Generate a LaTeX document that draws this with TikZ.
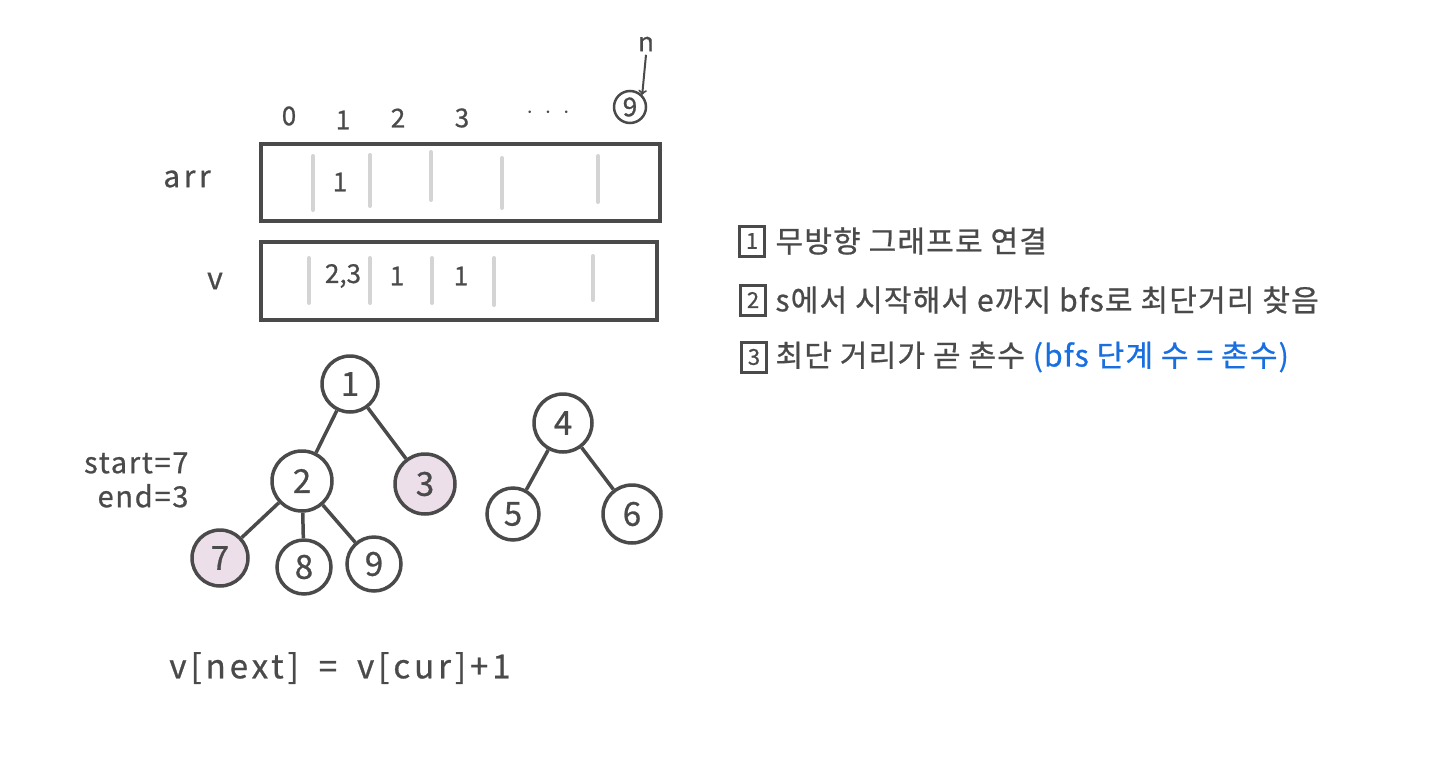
\documentclass[tikz,border=0pt]{standalone}
\usepackage{fontspec}
\setmainfont{Noto Sans CJK KR}[FakeBold=0.8]
\definecolor{ink}{HTML}{4A4A4A}
\definecolor{sep}{HTML}{D4D4D4}
\definecolor{mark}{HTML}{ECDFEA}
\definecolor{hint}{HTML}{1A6FE0}
\begin{document}
\begin{tikzpicture}[x=1pt,y=-1pt]
        \tikzstyle{every node} = [text=ink, font=\fontsize{26}{30}\selectfont]
        \tikzstyle{wide} = [font=\fontsize{30}{34}\selectfont\addfontfeature{LetterSpace=12}]
        \tikzstyle{vert} = [circle, draw=ink, line width=3.5pt, minimum size=56pt, inner sep=0pt, fill=white, font=\fontsize{33}{36}\selectfont]
        \tikzstyle{visit} = [vert, fill=mark]
        \tikzstyle{cell} = [draw=ink, line width=4pt, inner sep=0pt]
        \tikzstyle{bar} = [draw=sep, line width=4pt, line cap=round]
        \tikzstyle{numbox} = [draw=ink, line width=3pt, inner sep=0pt, minimum width=25pt, minimum height=30pt, font=\fontsize{22}{26}\selectfont]
        \tikzstyle{note} = [anchor=west, font=\fontsize{30}{34}\selectfont\addfontfeature{LetterSpace=4}]
        \useasboundingbox (0,0) rectangle (1440,782);
        \node (i0) at (289,116) {0};
        \node (i1) at (343,120) {1};
        \node (i2) at (398,118) {2};
        \node (i3) at (462,118) {3};
        \node (dots) at (548,113) {$\cdot\ \cdot\ \cdot$};
        \node[circle, draw=ink, line width=2.5pt, inner sep=1pt, minimum size=32pt] (i9) at (630,107) {9};
        \node (n) at (646,44) {n};
        \draw[->, ink, line width=2pt] (n.south) -- (i9.north east);
        \node[wide] (arrlabel) at (187,179) {arr};
        \node[wide] (vlabel) at (215,281) {v};
        \node[cell, minimum width=399pt, minimum height=77pt] (arr) at (460.5,182.5) {};
        \node[cell, minimum width=396pt, minimum height=78pt] (v) at (459,281) {};
        \foreach \x/\a/\b in {313/156/210, 370/155/206, 431/152/200, 502/158/208, 598/156/202}
            \draw[bar] (\x,\a) -- (\x,\b);
        \foreach \x/\a/\b in {309/258/303, 370/258/303, 432/258/303, 494/258/305, 593/256/300}
            \draw[bar] (\x,\a) -- (\x,\b);
        \node (arr1) at (340,182) {1};
        \node (v1) at (343,276) {2,3};
        \node (v2) at (397,276) {1};
        \node (v3) at (461,276) {1};
        \node[vert] (t1) at (350,384) {1};
        \node[vert, minimum size=60pt] (t2) at (302,481) {2};
        \node[visit, minimum size=60pt] (t3) at (425,484) {3};
        \node[visit] (t7) at (220,558) {7};
        \node[vert, minimum size=54pt] (t8) at (304,567) {8};
        \node[vert, minimum size=54pt] (t9) at (374,564) {9};
        \node[vert, minimum size=58pt] (t4) at (563,423) {4};
        \node[vert, minimum size=52pt] (t5) at (513,514) {5};
        \node[vert, minimum size=58pt] (t6) at (632,514) {6};
        \foreach \from/\to in {t1/t2, t1/t3, t2/t7, t2/t8, t2/t9, t4/t5, t4/t6}
            \draw[ink, line width=3.5pt] (\from) -- (\to);
        \node[align=right, anchor=east, font=\fontsize{29}{34}\selectfont\addfontfeature{LetterSpace=6}] (se) at (192,480) {start=7\\end=3};
        \node[wide, font=\fontsize{33}{36}\selectfont\addfontfeature{LetterSpace=12}] (rule) at (340,668) {v[next]\hspace{20pt}=\hspace{20pt}v[cur]+1};
        \node[numbox] (b1) at (752,241) {1};
        \node[numbox] (b2) at (753,300) {2};
        \node[numbox] (b3) at (754,357) {3};
        \node[note] (s1) at (772,241) {무방향 그래프로 연결};
        \node[note] (s2) at (772,300) {s에서 시작해서 e까지 bfs로 최단거리 찾음};
        \node[note] (s3) at (772,357) {최단 거리가 곧 촌수 {\color{hint}(bfs 단계 수 = 촌수)}};
    \end{tikzpicture}
\end{document}
